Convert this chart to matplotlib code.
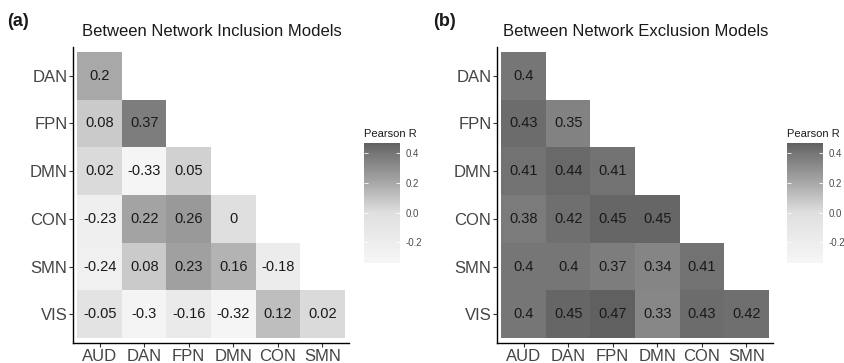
import numpy as np
import matplotlib
matplotlib.use("Agg")
import matplotlib.pyplot as plt
from matplotlib.colors import LinearSegmentedColormap, Normalize

plt.rcParams['font.family'] = ['Liberation Sans', 'DejaVu Sans']

# networks
row_labels = ["DAN", "FPN", "DMN", "CON", "SMN", "VIS"]
col_labels = ["AUD", "DAN", "FPN", "DMN", "CON", "SMN"]

# lower triangle values, row by row
inclusion = [
    [0.2],
    [0.08, 0.37],
    [0.02, -0.33, 0.05],
    [-0.23, 0.22, 0.26, 0],
    [-0.24, 0.08, 0.23, 0.16, -0.18],
    [-0.05, -0.3, -0.16, -0.32, 0.12, 0.02],
]
exclusion = [
    [0.4],
    [0.43, 0.35],
    [0.41, 0.44, 0.41],
    [0.38, 0.42, 0.45, 0.45],
    [0.4, 0.4, 0.37, 0.34, 0.41],
    [0.4, 0.45, 0.47, 0.33, 0.43, 0.42],
]
titles = ["Between Network Inclusion Models", "Between Network Exclusion Models"]
panel_tags = ["(a)", "(b)"]
cbar_ticks = [-0.2, 0.0, 0.2, 0.4]

VMIN, VMAX = -0.34, 0.47
# grey ramp (value, grey level)
anchors = [(-0.34, 246), (-0.2, 237), (0.0, 223), (0.1, 196), (0.2, 168),
           (0.3, 143), (0.4, 118), (0.47, 96)]
cmap = LinearSegmentedColormap.from_list(
    "greys_r", [((v - VMIN) / (VMAX - VMIN), (g / 255,) * 3) for v, g in anchors])
norm = Normalize(VMIN, VMAX)


def to_matrix(rows):
    m = np.full((len(rows), len(col_labels)), np.nan)
    for i, r in enumerate(rows):
        m[i, :len(r)] = r
    return np.ma.masked_invalid(m)


def draw_panel(fig, rect, cbar_rect, rows, title, tag, title_x, tag_x):
    ax = fig.add_axes(rect)
    m = to_matrix(rows)
    xe = np.arange(len(col_labels) + 1) - 0.5
    ye = np.arange(len(row_labels) + 1) - 0.5
    mesh = ax.pcolormesh(xe, ye, m, cmap=cmap, norm=norm, edgecolors='none')
    for i, r in enumerate(rows):
        for j, v in enumerate(r):
            ax.text(j, i, f"{v:g}", ha='center', va='center', fontsize=10.5, color='#1a1a1a')
    ax.set_xlim(-0.6, 5.6)
    ax.set_ylim(5.6, -0.6)
    ax.set_xticks(range(len(col_labels)), col_labels)
    ax.set_yticks(range(len(row_labels)), row_labels)
    ax.tick_params(labelsize=12, labelcolor='#444444', length=3, width=0.8, color='#333333', pad=1)
    for s in ['top', 'right']:
        ax.spines[s].set_visible(False)
    for s in ['left', 'bottom']:
        ax.spines[s].set_linewidth(1.0)
    fig.text(title_x, 1 - 36 / 363, title, fontsize=12, color='#1a1a1a', ha='left', va='baseline')
    fig.text(tag_x, 1 - 26 / 363, tag, fontsize=13, fontweight='bold', color='#1a1a1a',
             ha='left', va='baseline')

    cax = fig.add_axes(cbar_rect)
    cb = fig.colorbar(mesh, cax=cax, ticks=cbar_ticks)
    cb.outline.set_visible(False)
    cb.ax.set_yticklabels([f"{t:.1f}" for t in cbar_ticks])
    cax.tick_params(direction='in', color='white', length=3, width=0.6,
                    left=True, right=True, labelsize=7, labelcolor='#4d4d4d', pad=4)
    cax.set_title("Pearson R", fontsize=8, color='#1a1a1a', loc='left', pad=4)
    return ax


fig = plt.figure(figsize=(8.44, 3.63), dpi=100)
W, H = 844, 363
ax_h = 296 / H
draw_panel(fig, [73 / W, 20 / H, 276 / W, ax_h], [364 / W, 100 / H, 36 / W, 120 / H],
           inclusion, titles[0], panel_tags[0], 82 / W, 7 / W)
draw_panel(fig, [497 / W, 20 / H, 276 / W, ax_h], [787 / W, 100 / H, 36 / W, 120 / H],
           exclusion, titles[1], panel_tags[1], 503 / W, 433 / W)

fig.savefig("out.png", dpi=100)
